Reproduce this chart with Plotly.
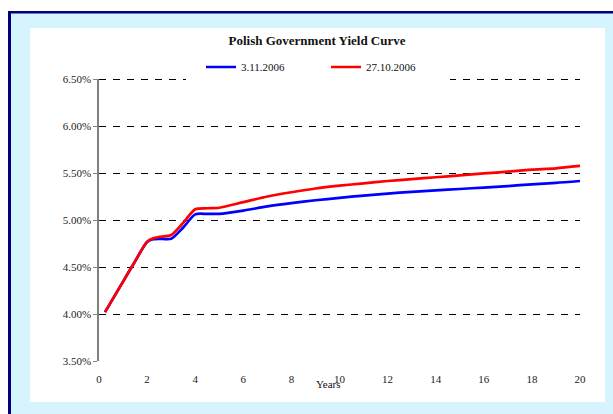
import plotly.graph_objects as go

# Maturities in years and yields in percent
years = [0.25, 1, 1.5, 2, 2.25, 2.5, 3, 3.5, 4, 4.5, 5, 6, 7, 8, 9, 10,
         11, 12, 13, 14, 15, 16, 17, 18, 19, 20]
yield_nov3 = [4.02, 4.345, 4.56, 4.765, 4.795, 4.80, 4.80, 4.92, 5.06, 5.065, 5.065,
              5.10, 5.145, 5.18, 5.21, 5.235, 5.26, 5.28, 5.30, 5.315, 5.33,
              5.345, 5.36, 5.38, 5.395, 5.415]
yield_oct27 = [4.02, 4.345, 4.56, 4.77, 4.805, 4.82, 4.84, 4.97, 5.115, 5.125, 5.13,
               5.19, 5.25, 5.295, 5.335, 5.365, 5.39, 5.415, 5.435, 5.455, 5.475,
               5.495, 5.515, 5.535, 5.55, 5.575]
series_names = ["3.11.2006", "27.10.2006"]
y_ticks = [3.5, 4.0, 4.5, 5.0, 5.5, 6.0, 6.5]
y_tick_text = ["3.50%", "4.00%", "4.50%", "5.00%", "5.50%", "6.00%", "6.50%"]
x_ticks = list(range(0, 21, 2))
y_min, y_max = y_ticks[0], y_ticks[-1]

W, H = 613, 414
ML, MR, MT, MB = 99, 33, 79, 53
PW, PH = W - ML - MR, H - MT - MB


def px(x):
    return (x - ML) / PW


def py(y):
    return (H - MB - y) / PH


SERIF = "Liberation Serif"
GRID_DASH = "7px,7px"
# nudge the top gridline half a pixel inside the plot so it is not clipped
half_px = 0.5 * (y_max - y_min) / PH

fig = go.Figure()
fig.add_trace(go.Scatter(x=years, y=yield_nov3, name=series_names[0], mode="lines",
                         line=dict(color="#0000ff", width=2.7, shape="spline", smoothing=0.7)))
fig.add_trace(go.Scatter(x=years, y=yield_oct27, name=series_names[1], mode="lines",
                         line=dict(color="#ff0000", width=2.7, shape="spline", smoothing=0.7)))

shapes = [
    # light blue frame background with navy left/top edge
    dict(type="rect", xref="paper", yref="paper", x0=px(8), x1=px(613), y0=py(414), y1=py(11),
         fillcolor="#000080", line=dict(width=0), layer="below"),
    dict(type="rect", xref="paper", yref="paper", x0=px(11), x1=px(613), y0=py(414), y1=py(13.5),
         fillcolor="#d6f4fd", line=dict(width=0), layer="below"),
    # white chart area
    dict(type="rect", xref="paper", yref="paper", x0=px(30), x1=px(605), y0=py(402), y1=py(28),
         fillcolor="white", line=dict(width=0), layer="below"),
    # top gridline at the upper end of the value axis
    dict(type="line", xref="paper", yref="y", x0=0, x1=1,
         y0=y_max - half_px, y1=y_max - half_px,
         line=dict(color="#000", width=1, dash=GRID_DASH), layer="below"),
    # legend backdrop over the top gridline
    dict(type="rect", xref="paper", yref="paper", x0=px(186), x1=px(450), y0=py(84), y1=py(56),
         fillcolor="white", line=dict(width=0), layer="above"),
]

fig.update_layout(
    width=W, height=H,
    margin=dict(l=ML, r=MR, t=MT, b=MB),
    paper_bgcolor="white", plot_bgcolor="white",
    shapes=shapes,
    title=dict(text="<b>Polish Government Yield Curve</b>", xref="container", x=317 / W,
               xanchor="center", yref="container", y=1 - 40 / H, yanchor="middle",
               font=dict(family=SERIF, size=13, color="#111")),
    showlegend=True,
    legend=dict(orientation="h", x=px(201), xanchor="left", y=py(67), yanchor="middle",
                bgcolor="rgba(0,0,0,0)", borderwidth=0,
                font=dict(family=SERIF, size=11, color="#111"),
                entrywidth=80, entrywidthmode="pixels", itemwidth=30),
    xaxis=dict(range=[0, 20], tickvals=x_ticks, showgrid=False, zeroline=False,
               showline=True, linecolor="white", ticks="", ticklabelstandoff=8,
               tickfont=dict(family=SERIF, size=11, color="#222")),
    yaxis=dict(range=[y_min, y_max], tickvals=y_ticks, ticktext=y_tick_text,
               showgrid=True, gridcolor="#000", gridwidth=1, griddash=GRID_DASH,
               zeroline=False, showline=True, linecolor="#808080", linewidth=1.5,
               ticks="outside", ticklen=4, tickcolor="#808080",
               tickfont=dict(family=SERIF, size=11, color="#222")),
    annotations=[dict(text="Years", xref="paper", yref="paper", x=px(328), y=py(384),
                      xanchor="center", yanchor="middle", showarrow=False,
                      font=dict(family=SERIF, size=11, color="#111"))],
)

fig.write_html("out.html")
